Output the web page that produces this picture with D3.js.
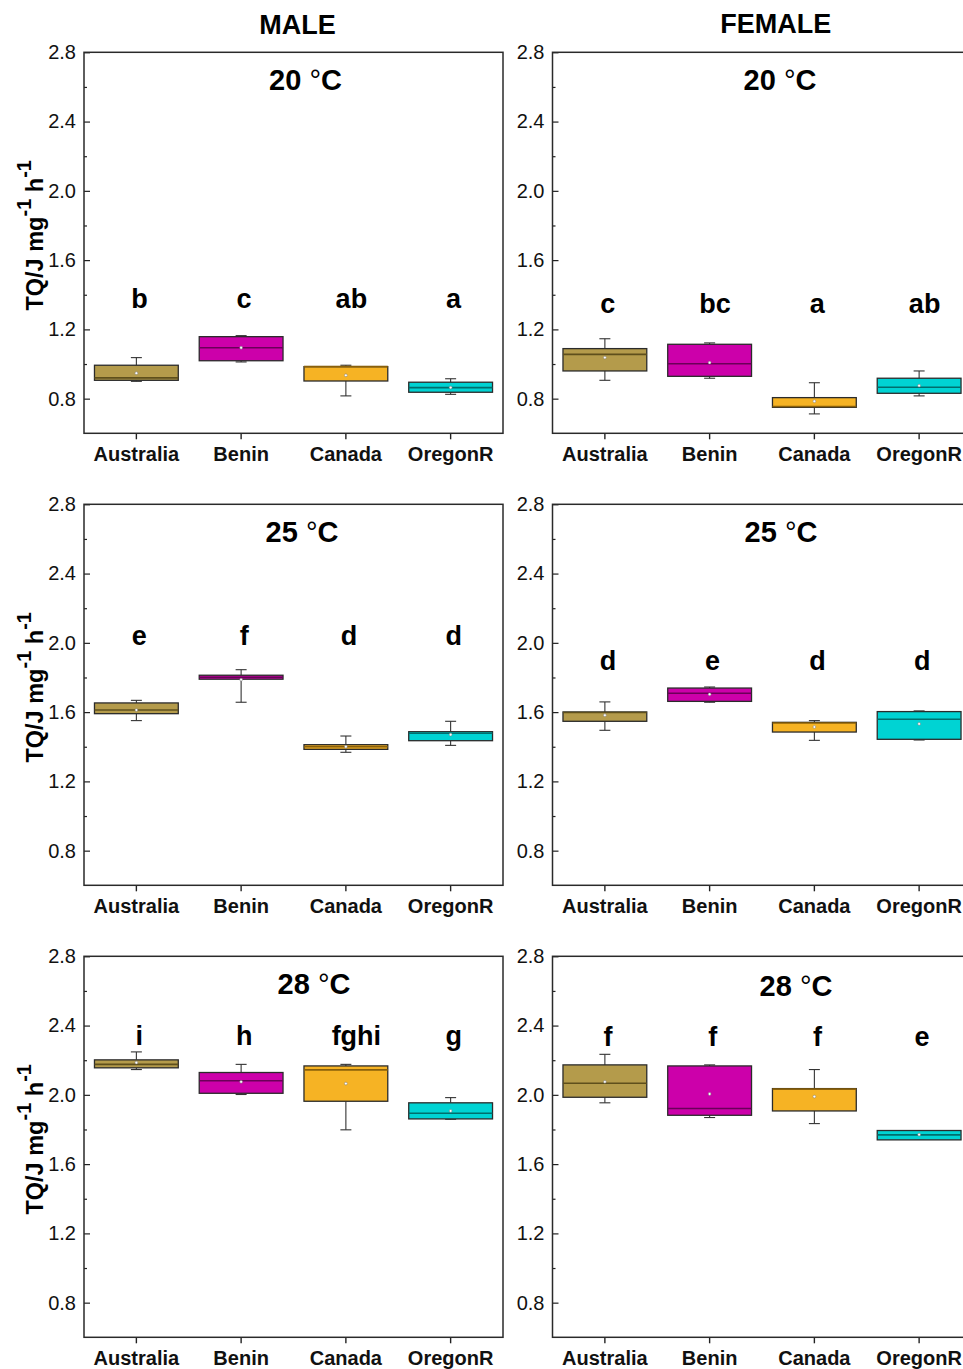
<!DOCTYPE html>
<html><head><meta charset="utf-8">
<script src="https://cdn.jsdelivr.net/npm/d3@7"></script>
<style>
html,body{margin:0;padding:0;background:#fff;}
svg{display:block;font-family:Arial,"Liberation Sans",Helvetica,sans-serif;}
</style></head>
<body>
<svg id="chart" width="963" height="1369"></svg>
<script>
// ---------- DATA ----------
const categories = ["Australia", "Benin", "Canada", "OregonR"];
const sexes = ["MALE", "FEMALE"];
const temps = ["20", "25", "28"];
const yTicks = [0.8, 1.2, 1.6, 2.0, 2.4, 2.8];
const yMinorTicks = [1.0, 1.4, 1.8, 2.2, 2.6];
const colors = ["#b49b4b", "#cc00aa", "#f6b324", "#00d3d3"];
const medianColors = ["#5e4f1c", "#6a0058", "#8a600a", "#006e6d"];

// per category: [whiskerLow, q1, median, q3, whiskerHigh, mean]
const male20 = [
  [0.900, 0.906, 0.920, 0.993, 1.037, 0.947],
  [1.012, 1.019, 1.094, 1.158, 1.164, 1.094],
  [0.816, 0.902, 0.985, 0.985, 0.993, 0.935],
  [0.825, 0.837, 0.864, 0.895, 0.915, 0.864]
];
const female20 = [
  [0.906, 0.960, 1.056, 1.089, 1.146, 1.037],
  [0.918, 0.929, 1.002, 1.114, 1.122, 1.008],
  [0.712, 0.750, 0.755, 0.806, 0.892, 0.785],
  [0.816, 0.831, 0.866, 0.918, 0.960, 0.875]
];
const male25 = [
  [1.551, 1.591, 1.612, 1.653, 1.668, 1.612],
  [1.657, 1.790, 1.801, 1.813, 1.845, 1.787],
  [1.368, 1.385, 1.400, 1.412, 1.462, 1.400],
  [1.408, 1.435, 1.478, 1.487, 1.547, 1.470]
];
const female25 = [
  [1.495, 1.547, 1.598, 1.601, 1.659, 1.582],
  [1.657, 1.662, 1.709, 1.739, 1.745, 1.703],
  [1.437, 1.485, 1.537, 1.541, 1.551, 1.514],
  [1.439, 1.443, 1.559, 1.603, 1.607, 1.532]
];
const male28 = [
  [2.146, 2.156, 2.176, 2.202, 2.248, 2.186],
  [2.002, 2.009, 2.081, 2.129, 2.176, 2.075],
  [1.798, 1.963, 2.144, 2.167, 2.176, 2.065],
  [1.859, 1.861, 1.894, 1.954, 1.984, 1.907]
];
const female28 = [
  [1.954, 1.986, 2.067, 2.173, 2.234, 2.075],
  [1.869, 1.882, 1.921, 2.167, 2.173, 2.005],
  [1.834, 1.907, 2.033, 2.036, 2.146, 1.990],
  [1.745, 1.740, 1.769, 1.794, 1.794, 1.770]
];
const male20Letters = ["b", "c", "ab", "a"];
const female20Letters = ["c", "bc", "a", "ab"];
const male25Letters = ["e", "f", "d", "d"];
const female25Letters = ["d", "e", "d", "d"];
const male28Letters = ["i", "h", "fghi", "g"];
const female28Letters = ["f", "f", "f", "e"];
// value at which the letters' baseline sits
const letterLevels = [[1.325, 1.295], [1.99, 1.845], [2.288, 2.28]];

const panelStats = [[male20, female20], [male25, female25], [male28, female28]];
const panelLetters = [[male20Letters, female20Letters], [male25Letters, female25Letters], [male28Letters, female28Letters]];

// ---------- LAYOUT ----------
const svg = d3.select("#chart");
const panelLeft = [84, 552.5];
const panelTop = [52.3, 504.3, 956.3];
const PW = 419, PH = 381;
const titleOffsetX = [[221.5, 227.5], [218, 228.5], [230, 243.5]];
const titleOffsetY = [[38, 38], [38, 38], [37.5, 40]];
const FONT = "Arial, 'Liberation Sans', Helvetica, sans-serif";

// column headers
sexes.forEach((s, j) => {
  svg.append("text")
    .attr("x", j === 0 ? 297.5 : 775.7)
    .attr("y", j === 0 ? 34 : 33)
    .attr("text-anchor", "middle")
    .attr("font-size", 27).attr("font-weight", "bold")
    .attr("fill", "#000").text(s);
});

temps.forEach((t, i) => {
  sexes.forEach((s, j) => {
    const left = panelLeft[j], top = panelTop[i];
    const g = svg.append("g");
    const y = d3.scaleLinear().domain([0.6, 2.8]).range([top + PH, top]);
    const x = d3.scaleBand().domain(categories).range([left, left + PW]).padding(0);
    const bw = x.bandwidth();
    const boxW = bw * 0.8;
    const capW = 11;
    const cx = c => x(c) + bw / 2;

    // y axis major
    const ya = g.append("g").attr("transform", `translate(${left},0)`)
      .call(d3.axisLeft(y).tickValues(yTicks).tickFormat(d3.format(".1f"))
        .tickSizeInner(-6).tickSizeOuter(0).tickPadding(8));
    ya.select(".domain").remove();
    ya.selectAll("line").attr("stroke", "#222").attr("stroke-width", 1.2);
    ya.selectAll("text").attr("font-size", 20).attr("font-family", FONT).attr("fill", "#111");
    // y axis minor
    const ym = g.append("g").attr("transform", `translate(${left},0)`)
      .call(d3.axisLeft(y).tickValues(yMinorTicks).tickFormat("").tickSizeInner(-3).tickSizeOuter(0));
    ym.select(".domain").remove();
    ym.selectAll("line").attr("stroke", "#222").attr("stroke-width", 1.2);

    // x axis
    const xa = g.append("g").attr("transform", `translate(0,${top + PH})`)
      .call(d3.axisBottom(x).tickSizeInner(6).tickSizeOuter(0).tickPadding(8));
    xa.select(".domain").remove();
    xa.selectAll("line").attr("stroke", "#222").attr("stroke-width", 1.4);
    xa.selectAll("text").attr("font-size", 20).attr("font-weight", "bold")
      .attr("font-family", FONT).attr("fill", "#111");

    // frame
    g.append("rect").attr("x", left).attr("y", top).attr("width", PW).attr("height", PH)
      .attr("fill", "none").attr("stroke", "#2a2a2a").attr("stroke-width", 1.5);

    // boxes
    const stats = panelStats[i][j];
    const boxes = g.append("g").selectAll("g").data(categories).join("g");
    boxes.each(function (c, k) {
      const d = stats[k];
      const b = d3.select(this);
      const wl = d[0], q1 = d[1], med = d[2], q3 = d[3], wh = d[4], mean = d[5];
      // whiskers
      b.append("line").attr("x1", cx(c)).attr("x2", cx(c)).attr("y1", y(q3)).attr("y2", y(wh))
        .attr("stroke", "#333").attr("stroke-width", 1.1);
      b.append("line").attr("x1", cx(c)).attr("x2", cx(c)).attr("y1", y(q1)).attr("y2", y(wl))
        .attr("stroke", "#333").attr("stroke-width", 1.1);
      [wl, wh].forEach(v => {
        b.append("line").attr("x1", cx(c) - capW / 2).attr("x2", cx(c) + capW / 2)
          .attr("y1", y(v)).attr("y2", y(v)).attr("stroke", "#333").attr("stroke-width", 1.1);
      });
      // box
      b.append("rect").attr("x", cx(c) - boxW / 2).attr("width", boxW)
        .attr("y", y(q3)).attr("height", Math.max(1, y(q1) - y(q3)))
        .attr("fill", colors[k]).attr("stroke", "#2b2b2b").attr("stroke-width", 1.3);
      // median
      b.append("line").attr("x1", cx(c) - boxW / 2).attr("x2", cx(c) + boxW / 2)
        .attr("y1", y(med)).attr("y2", y(med))
        .attr("stroke", medianColors[k]).attr("stroke-width", 1.6);
      // mean
      b.append("circle").attr("cx", cx(c)).attr("cy", y(mean)).attr("r", 1.4)
        .attr("fill", "#fff").attr("stroke", "#777").attr("stroke-width", 0.5);
    });

    // significance letters
    const letters = panelLetters[i][j];
    g.append("g").selectAll("text").data(categories).join("text")
      .attr("x", (c, k) => cx(c) + 3 + (letters[k].length - 1) * 2.5)
      .attr("y", y(letterLevels[i][j]))
      .attr("text-anchor", "middle")
      .attr("font-size", 27).attr("font-weight", "bold").attr("fill", "#000")
      .text((c, k) => letters[k]);

    // panel title
    const tt = g.append("text")
      .attr("x", left + titleOffsetX[i][j]).attr("y", top + titleOffsetY[i][j])
      .attr("text-anchor", "middle").attr("font-size", 29).attr("font-weight", "bold").attr("fill", "#000");
    tt.append("tspan").text(t + " ");
    tt.append("tspan").attr("font-weight", "normal").text("°");
    tt.append("tspan").text("C");

    // y axis label (left column only)
    if (j === 0) {
      const yl = svg.append("text")
        .attr("transform", `translate(43,${top + 183}) rotate(-90)`)
        .attr("text-anchor", "middle").attr("font-size", 23.5).attr("font-weight", "bold").attr("fill", "#000");
      yl.append("tspan").text("TQ/J mg");
      yl.append("tspan").attr("font-size", 20).attr("dy", -12).text("-1");
      yl.append("tspan").attr("dy", 12).text(" h");
      yl.append("tspan").attr("font-size", 20).attr("dy", -12).text("-1");
    }
  });
});
</script>
</body></html>
